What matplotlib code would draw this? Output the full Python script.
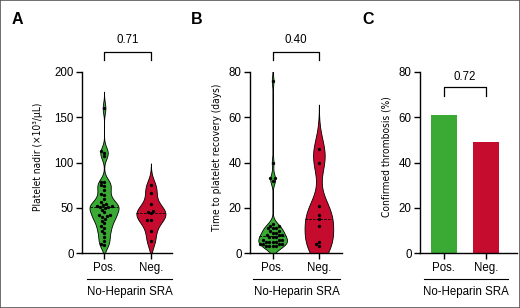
import numpy as np
import matplotlib
matplotlib.use("Agg")
import matplotlib.pyplot as plt
from matplotlib.patches import Rectangle
import seaborn as sns

# ---------------- data ----------------
groups = ["Pos.", "Neg."]
nadir_pos = [160, 113, 111, 107, 79, 78, 75, 74, 70, 65, 64, 60, 56, 54, 53, 52, 52, 51,
             51, 50, 48, 45, 42, 42, 41, 40, 38, 36, 33, 30, 28, 25, 22, 18, 14, 10, 9]
nadir_neg = [75, 66, 54, 47, 45, 44, 37, 37, 25, 13]
recov_pos = [76, 40, 33, 33, 32, 13, 12, 12, 11, 11, 11, 10, 10, 9, 9, 8, 8, 8, 7, 7, 7,
             6, 6, 6, 5, 5, 5, 5, 4, 4, 4, 4, 3, 3, 3, 3]
recov_neg = [46, 40, 21, 17, 15, 12, 5, 4, 3]
thromb_pct = [61, 49]
pvals = ["0.71", "0.40", "0.72"]
panel_letters = ["A", "B", "C"]
ylabels = ["Platelet nadir (\u00d710\u00b3/\u03bcL)", "Time to platelet recovery (days)",
           "Confirmed thrombosis (%)"]
group_title = "No-Heparin SRA"

GREEN = "#3aaa35"
RED = "#c60c2e"
W, H = 520, 308

plt.rcParams['font.family'] = ['Liberation Sans', 'DejaVu Sans']

fig = plt.figure(figsize=(W / 100, H / 100), dpi=100)
fig.patches.append(Rectangle((0, 0), 1, 1, transform=fig.transFigure, fill=False,
                             edgecolor="#555555", lw=1.2))


def ax_px(x0, x1, y0=253.3, y1=71.7):
    return fig.add_axes([x0 / W, 1 - y0 / H, (x1 - x0) / W, (y0 - y1) / H])


def kde(vals, bw, lo=0.0, cut=3.0, n=300):
    v = np.asarray(vals, float)
    y = np.linspace(max(v.min() - cut * bw, lo), v.max() + cut * bw, n)
    d = np.exp(-0.5 * ((y[:, None] - v[None, :]) / bw) ** 2).sum(1)
    return y, d / d.max()


def violin(ax, pos, vals, bw, color, half=0.31):
    y, d = kde(vals, bw)
    ax.fill_betweenx(y, pos - half * d, pos + half * d, facecolor=color,
                     edgecolor="black", lw=0.6, zorder=2)
    med = np.median(vals)
    wm = half * np.interp(med, y, d)
    ax.plot([pos - wm, pos + wm], [med, med], ls=(0, (3, 1.5)), color="black",
            lw=0.6, zorder=4)


def style(ax, ylim, yticks, xlim, ylabel, lx):
    ax.set_ylim(*ylim)
    ax.set_xlim(*xlim)
    ax.set_yticks(yticks)
    ax.set_xticks([0, 1])
    ax.set_xticklabels(groups)
    for s in ["top", "right"]:
        ax.spines[s].set_visible(False)
    for s in ["left", "bottom"]:
        ax.spines[s].set_linewidth(1.0)
    ax.tick_params(axis="both", labelsize=8.3, length=4, width=1.0, pad=2)
    ax.set_ylabel(ylabel, fontsize=7.3, family="DejaVu Sans", fontstretch="condensed")
    ax.yaxis.set_label_coords(lx, 0.53)
    ax.set_xlabel("")


def bracket(ax, top, drop, text, ty):
    ax.plot([0, 0, 1, 1], [top - drop, top, top, top - drop], color="black", lw=0.9,
            clip_on=False)
    ax.text(0.5, ty, text, ha="center", va="center", fontsize=8.3)


def group_line(ax, x0, x1, xc):
    ax.plot([x0, x1], [-0.1415, -0.1415], transform=ax.transAxes, color="black",
            lw=0.8, clip_on=False)
    ax.text(xc, -0.213, group_title, transform=ax.transAxes, ha="center",
            va="center", fontsize=8.3)


# ---------- Panel A ----------
axA = ax_px(82, 172)
axA.set_ylim(0, 200)
axA.set_xlim(-0.47, 1.45)
violin(axA, 0, nadir_pos, 6.0, GREEN)
violin(axA, 1, nadir_neg, 8.0, RED)
sns.swarmplot(x=[0] * len(nadir_pos) + [1] * len(nadir_neg), y=nadir_pos + nadir_neg,
              native_scale=True, color="black", size=2.4, ax=axA, zorder=3)
style(axA, (0, 200), [0, 50, 100, 150, 200], (-0.47, 1.45), ylabels[0], -0.43)
bracket(axA, 222, 9, pvals[0], 235)
group_line(axA, 0.056, 1.0, 0.528)

# ---------- Panel B ----------
axB = ax_px(250, 342)
axB.set_ylim(0, 80)
axB.set_xlim(-0.49, 1.5)
violin(axB, 0, recov_pos, 2.2, GREEN)
violin(axB, 1, recov_neg, 6.5, RED)
sns.swarmplot(x=[0] * len(recov_pos) + [1] * len(recov_neg), y=recov_pos + recov_neg,
              native_scale=True, color="black", size=2.4, ax=axB, zorder=3)
style(axB, (0, 80), [0, 20, 40, 60, 80], (-0.49, 1.5), ylabels[1], -0.30)
bracket(axB, 88.7, 3.6, pvals[1], 94)
group_line(axB, 0.033, 0.978, 0.505)

# ---------- Panel C ----------
axC = ax_px(420, 517)
axC.bar([0, 1], thromb_pct, width=0.6, color=[GREEN, RED])
style(axC, (0, 80), [0, 20, 40, 60, 80], (-0.57, 1.74), ylabels[2], -0.29)
bracket(axC, 73.3, 4.2, pvals[2], 77.8)
group_line(axC, 0.041, 0.907, 0.474)

# ---------- panel letters ----------
for lx, letter in zip([12, 191, 362], panel_letters):
    fig.text(lx / W, 1 - 20 / H, letter, fontsize=11.5, fontweight="bold",
             ha="left", va="center")

fig.savefig("out.png", dpi=100)
